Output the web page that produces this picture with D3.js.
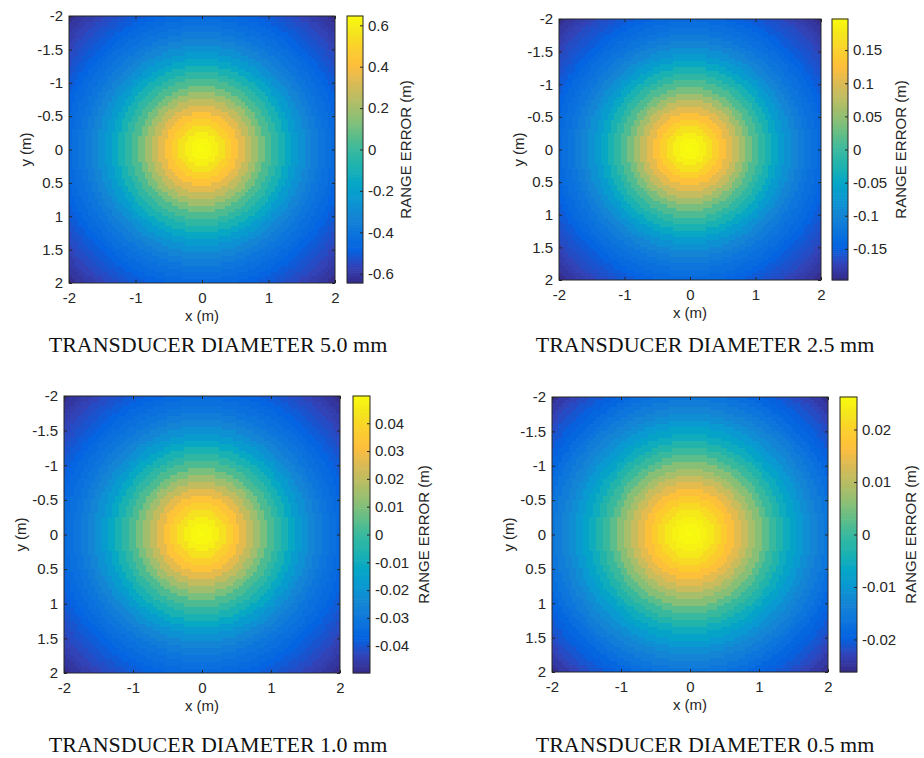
<!DOCTYPE html>
<html>
<head>
<meta charset="utf-8">
<script src="https://cdn.jsdelivr.net/npm/d3@7"></script>
<style>
  body { margin: 0; background: #fff; }
  svg { display: block; }
  .tick text { font-family: "Liberation Sans", Arial, sans-serif; font-size: 15px; fill: #262626; }
  .lab { font-family: "Liberation Sans", Arial, sans-serif; font-size: 15px; fill: #262626; }
  .ttl { font-family: "Liberation Serif", "Times New Roman", serif; font-size: 22px; fill: #111; }
</style>
</head>
<body>
<div id="chart"></div>
<script>
// axis ticks (m)
var xTicks = [-2, -1, 0, 1, 2];
var yTicks = [-2, -1.5, -1, -0.5, 0, 0.5, 1, 1.5, 2];

// radial profile: distance from centre (m)
var radii = [0, 0.1, 0.2, 0.3, 0.4, 0.5, 0.6, 0.7, 0.8, 0.9,
             1.0, 1.1, 1.2, 1.3, 1.4, 1.5, 1.6, 1.7, 1.8, 1.9,
             2.0, 2.1, 2.2, 2.3, 2.4, 2.5, 2.6, 2.7, 2.8, 2.9];

// range error (m) at each radius, one list per transducer diameter
var err50 = [0.645, 0.632, 0.606, 0.555, 0.490, 0.426, 0.348, 0.271, 0.194, 0.116,
             0.039, -0.026, -0.090, -0.155, -0.219, -0.271, -0.323, -0.361, -0.400, -0.426,
             -0.452, -0.477, -0.503, -0.522, -0.542, -0.568, -0.587, -0.606, -0.632, -0.645];
var err25 = [0.197, 0.193, 0.185, 0.169, 0.150, 0.130, 0.106, 0.083, 0.059, 0.035,
             0.012, -0.008, -0.028, -0.047, -0.067, -0.083, -0.099, -0.110, -0.122, -0.130,
             -0.138, -0.146, -0.154, -0.160, -0.165, -0.173, -0.179, -0.185, -0.193, -0.197];
var err10 = [0.0498, 0.0488, 0.0468, 0.0428, 0.0378, 0.0329, 0.0269, 0.0209, 0.0149, 0.0090,
             0.0030, -0.0020, -0.0070, -0.0120, -0.0169, -0.0209, -0.0249, -0.0279, -0.0309, -0.0329,
             -0.0349, -0.0369, -0.0388, -0.0403, -0.0418, -0.0438, -0.0453, -0.0468, -0.0488, -0.0498];
var err05 = [0.0262, 0.0257, 0.0249, 0.0236, 0.0215, 0.0194, 0.0168, 0.0141, 0.0115, 0.0084,
             0.0058, 0.0026, 0.0000, -0.0026, -0.0052, -0.0073, -0.0094, -0.0115, -0.0131, -0.0147,
             -0.0162, -0.0176, -0.0189, -0.0199, -0.0210, -0.0220, -0.0231, -0.0241, -0.0254, -0.0262];

// colour limits and colorbar ticks
var cLim50 = [-0.645, 0.645],   cTicks50 = [-0.6, -0.4, -0.2, 0, 0.2, 0.4, 0.6];
var cLim25 = [-0.197, 0.197],   cTicks25 = [-0.15, -0.1, -0.05, 0, 0.05, 0.1, 0.15];
var cLim10 = [-0.0498, 0.0498], cTicks10 = [-0.04, -0.03, -0.02, -0.01, 0, 0.01, 0.02, 0.03, 0.04];
var cLim05 = [-0.0262, 0.0262], cTicks05 = [-0.02, -0.01, 0, 0.01, 0.02];

var titles = ["TRANSDUCER DIAMETER 5.0 mm", "TRANSDUCER DIAMETER 2.5 mm",
              "TRANSDUCER DIAMETER 1.0 mm", "TRANSDUCER DIAMETER 0.5 mm"];

// parula colormap stops
var parula = [[0.2081,0.1663,0.5292],[0.1959,0.2645,0.7279],[0.0117,0.3875,0.8820],[0.0498,0.4586,0.8641],
              [0.0793,0.5200,0.8312],[0.0343,0.5966,0.8199],[0.0228,0.6535,0.7768],[0.1133,0.7015,0.6859],
              [0.2178,0.7250,0.6193],[0.3953,0.7459,0.5244],[0.5709,0.7485,0.4494],[0.7184,0.7411,0.3905],
              [0.8507,0.7299,0.3360],[0.9938,0.7455,0.2403],[0.9880,0.8066,0.1794],[0.9589,0.8949,0.1132],
              [0.9763,0.9831,0.0538]];

var W = 924, H = 758, step = 0.05;

// panel layout (pixels)
var panels = [
  {err: err50, clim: cLim50, cticks: cTicks50, title: titles[0],
   x: 69, y: 16, w: 266, h: 267, cbx: 347, cbw: 16, tx: 218, ty: 352, ylx: 31, clx: 411},
  {err: err25, clim: cLim25, cticks: cTicks25, title: titles[1],
   x: 559, y: 19, w: 262, h: 261, cbx: 832, cbw: 16, tx: 705, ty: 352, ylx: 524, clx: 906},
  {err: err10, clim: cLim10, cticks: cTicks10, title: titles[2],
   x: 64, y: 396, w: 276, h: 277, cbx: 353, cbw: 17, tx: 218, ty: 752, ylx: 26, clx: 429},
  {err: err05, clim: cLim05, cticks: cTicks05, title: titles[3],
   x: 552, y: 397, w: 276, h: 275, cbx: 840, cbw: 17, tx: 705, ty: 752, ylx: 514, clx: 916}
];

var svg = d3.select("#chart").append("svg").attr("width", W).attr("height", H);

var cells = [];
var nCell = Math.round(4 / step);
for (var i = 0; i < nCell; i++) {
  for (var j = 0; j < nCell; j++) {
    cells.push({x: -2 + i * step, y: -2 + j * step});
  }
}

panels.forEach(function(p) {
  var x = d3.scaleLinear().domain([-2, 2]).range([p.x, p.x + p.w]);
  var y = d3.scaleLinear().domain([-2, 2]).range([p.y, p.y + p.h]);
  var color = d3.scaleLinear()
    .domain(parula.map(function(d, k) { return p.clim[0] + (p.clim[1] - p.clim[0]) * k / (parula.length - 1); }))
    .range(parula.map(function(c) { return d3.rgb(c[0] * 255, c[1] * 255, c[2] * 255); }))
    .clamp(true);

  var g = svg.append("g");

  // heatmap cells: value taken from the nearest radius in the profile
  g.append("g").selectAll("rect")
    .data(cells)
    .enter().append("rect")
    .attr("x", function(d) { return Math.floor(x(d.x)); })
    .attr("y", function(d) { return Math.floor(y(d.y)); })
    .attr("width", function(d) { return Math.ceil(x(d.x + step)) - Math.floor(x(d.x)); })
    .attr("height", function(d) { return Math.ceil(y(d.y + step)) - Math.floor(y(d.y)); })
    .attr("shape-rendering", "crispEdges")
    .attr("fill", function(d) {
      var cx = d.x + step / 2, cy = d.y + step / 2;
      var k = Math.min(radii.length - 1, Math.round(Math.sqrt(cx * cx + cy * cy) / 0.1));
      return color(p.err[k]);
    });

  // axes, ticks inside on all four sides
  var ax = g.append("g").attr("transform", "translate(0," + (p.y + p.h) + ")")
    .call(d3.axisBottom(x).tickValues(xTicks).tickSize(-3).tickPadding(9).tickFormat(d3.format("")));
  var ay = g.append("g").attr("transform", "translate(" + p.x + ",0)")
    .call(d3.axisLeft(y).tickValues(yTicks).tickSize(-3).tickPadding(6).tickFormat(function(d) { return String(d); }));
  var at = g.append("g").attr("transform", "translate(0," + p.y + ")")
    .call(d3.axisTop(x).tickValues(xTicks).tickSize(-3).tickFormat(""));
  var ar = g.append("g").attr("transform", "translate(" + (p.x + p.w) + ",0)")
    .call(d3.axisRight(y).tickValues(yTicks).tickSize(-3).tickFormat(""));
  [ax, ay, at, ar].forEach(function(a) {
    a.select(".domain").remove();
    a.selectAll(".tick line").attr("stroke", "#262626");
  });
  ax.selectAll(".tick text").text(function(d) { return String(d); });

  g.append("rect")
    .attr("x", p.x).attr("y", p.y).attr("width", p.w).attr("height", p.h)
    .attr("fill", "none").attr("stroke", "#262626").attr("stroke-width", 1);

  g.append("text").attr("class", "lab")
    .attr("x", p.x + p.w / 2).attr("y", p.y + p.h + 38)
    .attr("text-anchor", "middle").text("x (m)");
  g.append("text").attr("class", "lab")
    .attr("transform", "translate(" + p.ylx + "," + (p.y + p.h / 2) + ") rotate(-90)")
    .attr("text-anchor", "middle").text("y (m)");

  // colorbar
  var cy = d3.scaleLinear().domain(p.clim).range([p.y + p.h, p.y]);
  var nBand = 128;
  var bands = d3.range(nBand).map(function(k) { return p.clim[0] + (p.clim[1] - p.clim[0]) * (k + 0.5) / nBand; });
  var bh = p.h / nBand;
  g.append("g").selectAll("rect")
    .data(bands)
    .enter().append("rect")
    .attr("x", p.cbx)
    .attr("y", function(d) { return cy(d) - bh / 2 - 0.3; })
    .attr("width", p.cbw)
    .attr("height", bh + 0.6)
    .attr("fill", function(d) { return color(d); });

  var ac = g.append("g").attr("transform", "translate(" + (p.cbx + p.cbw) + ",0)")
    .call(d3.axisRight(cy).tickValues(p.cticks).tickSize(-3).tickPadding(5).tickFormat(function(d) { return String(d); }));
  ac.select(".domain").remove();
  ac.selectAll(".tick line").attr("stroke", "#262626");

  g.append("rect")
    .attr("x", p.cbx).attr("y", p.y).attr("width", p.cbw).attr("height", p.h)
    .attr("fill", "none").attr("stroke", "#262626").attr("stroke-width", 1);

  g.append("text").attr("class", "lab")
    .attr("transform", "translate(" + p.clx + "," + (p.y + p.h / 2) + ") rotate(-90)")
    .attr("text-anchor", "middle").text("RANGE ERROR (m)");

  g.append("text").attr("class", "ttl")
    .attr("x", p.tx).attr("y", p.ty)
    .attr("text-anchor", "middle").text(p.title);
});
</script>
</body>
</html>
